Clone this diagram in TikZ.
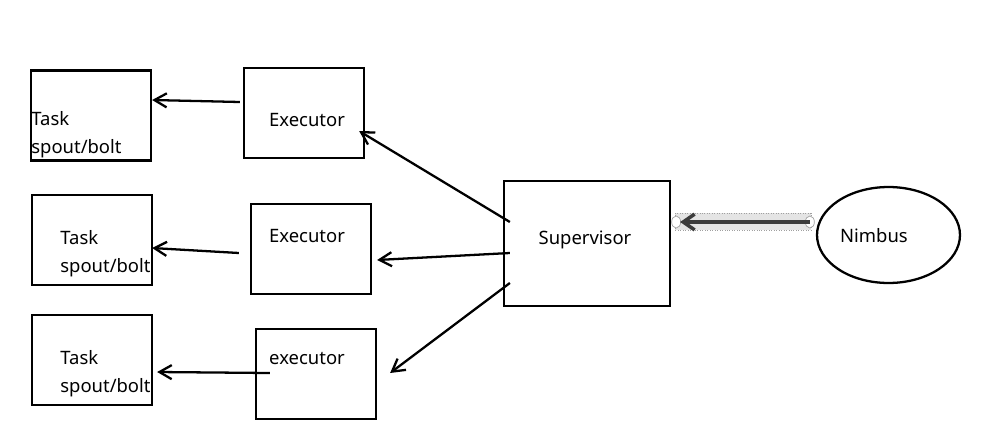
\documentclass[tikz,border=0pt]{standalone}
\usepackage{fontspec}
\setmainfont{Noto Sans}
\usepackage{xcolor}
\usepackage{tikz}
\usetikzlibrary{shapes.geometric,arrows.meta,positioning,calc}
\definecolor{linkgray}{RGB}{60,60,60}
\definecolor{bandgray}{RGB}{228,228,228}
\definecolor{bandedge}{RGB}{160,160,160}

\begin{document}
\begin{tikzpicture}[
  x=0.02cm, y=-0.02cm,
  plainbox/.style={draw, line width=1.3pt, inner sep=0pt, minimum width=2.4cm, minimum height=1.8cm},
  supbox/.style={plainbox, minimum width=3.32cm, minimum height=2.5cm},
  nimbusnode/.style={draw, ellipse, line width=1.3pt, inner sep=0pt, minimum width=2.86cm, minimum height=1.92cm},
  lbl/.style={font=\fontsize{10.5}{16}\selectfont, inner sep=0pt, align=left},
  arr/.style={-{Straight Barb[length=7pt,width=8pt]}, line width=1.3pt},
  grayarr/.style={-{Straight Barb[length=6.5pt,width=9pt]}, line width=2pt, draw=linkgray},
  endcirc/.style={draw=bandedge, fill=white, line width=0.4pt}
]
\useasboundingbox (0,0) rectangle (1000,433);

\node[plainbox] (task1) at (91,115.5) {};
\node[plainbox] (task2) at (92,240) {};
\node[plainbox] (task3) at (92,360) {};
\node[plainbox] (exec1) at (304,113) {};
\node[plainbox] (exec2) at (311,249) {};
\node[plainbox] (exec3) at (316,374) {};
\node[supbox]   (sup)   at (587,243.5) {};
\node[nimbusnode] (nimbus) at (888.5,235) {};

\node[lbl, anchor=west] (task1txt) at (31,135) {Task\\spout/bolt};
\node[lbl, anchor=west] (task2txt) at (60,254) {Task\\spout/bolt};
\node[lbl, anchor=west] (task3txt) at (60,374) {Task\\spout/bolt};
\node[lbl] (exec1txt) at (307,120) {Executor};
\node[lbl] (exec2txt) at (307,236.5) {Executor};
\node[lbl] (exec3txt) at (307,359) {executor};
\node[lbl] (suptxt)   at (585,240) {Supervisor};
\node[lbl] (nimbustxt) at (874,236) {Nimbus};

\draw[arr] ($(exec1.west)+(-3,-11)$) -- ($(task1.east)+(0,-15.5)$);
\draw[arr] ($(exec2.west)+(-11,4)$) -- ($(task2.east)+(-1,8)$);
\draw[arr] ($(exec3.west)+(15,-1)$) -- ($(task3.east)+(4,12)$);
\draw[arr] ($(sup.west)+(7,-21.5)$) -- ($(exec1.east)+(-6,18)$);
\draw[arr] ($(sup.west)+(7,9.5)$) -- ($(exec2.east)+(5,11)$);
\draw[arr] ($(sup.west)+(7,39.5)$) -- ($(exec3.east)+(13,-1)$);

\coordinate (nimtail) at ($(nimbus.west)+(-6,-13)$);
\coordinate (suphead) at ($(sup.east)+(5,-21.5)$);
\fill[bandgray] ($(suphead)+(-1,-9)$) rectangle ($(nimtail)+(1,8)$);
\draw[bandedge, densely dotted, line width=0.4pt] ($(suphead)+(-1,-9)$) rectangle ($(nimtail)+(1,8)$);
\draw[endcirc] (suphead) ellipse [x radius=4.5, y radius=6];
\draw[endcirc] (nimtail) ellipse [x radius=4.5, y radius=6];
\draw[grayarr] (nimtail) -- ($(suphead)+(4,0)$);
\end{tikzpicture}
\end{document}
